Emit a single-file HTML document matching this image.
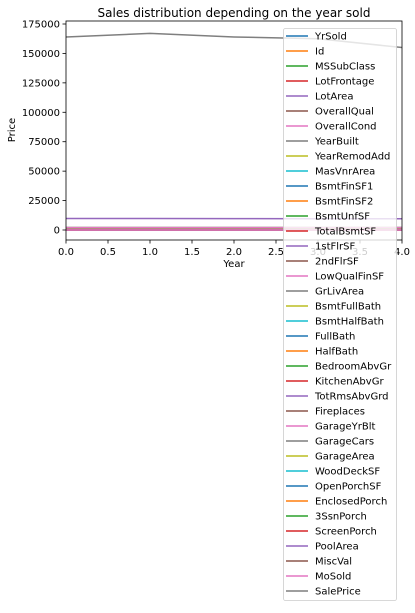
<!DOCTYPE html>
<html><head><meta charset="utf-8"><style>
body{margin:0;background:#fff;width:415px;height:608px;overflow:hidden}
svg text{font-family:"DejaVu Sans","Liberation Sans",sans-serif;fill:#000}
</style></head><body>
<svg id="c" width="415" height="608" xmlns="http://www.w3.org/2000/svg"></svg>
<script>
const xVals=[0,1,2,3,4];
const seriesNames=["YrSold","Id","MSSubClass","LotFrontage","LotArea","OverallQual","OverallCond","YearBuilt","YearRemodAdd","MasVnrArea","BsmtFinSF1","BsmtFinSF2","BsmtUnfSF","TotalBsmtSF","1stFlrSF","2ndFlrSF","LowQualFinSF","GrLivArea","BsmtFullBath","BsmtHalfBath","FullBath","HalfBath","BedroomAbvGr","KitchenAbvGr","TotRmsAbvGrd","Fireplaces","GarageYrBlt","GarageCars","GarageArea","WoodDeckSF","OpenPorchSF","EnclosedPorch","3SsnPorch","ScreenPorch","PoolArea","MiscVal","MoSold","SalePrice"];
const seriesValues=[
[2006,2007,2008,2009,2010],[720,735,730,725,740],[57,56,58,56,57],[70,70,69,70,71],[9800,9750,9650,9600,9550],
[6,6,6,6,6],[6,6,6,6,6],[1970,1972,1971,1971,1972],[1984,1985,1985,1985,1986],[105,104,102,100,98],
[440,445,440,438,442],[46,47,45,46,44],[565,568,570,567,565],[1055,1060,1055,1050,1058],[1160,1165,1160,1158,1162],
[345,348,346,344,347],[6,5,6,5,6],[1515,1520,1515,1510,1518],[0,0,0,0,0],[0,0,0,0,0],
[2,2,2,2,2],[0,0,0,0,0],[3,3,3,3,3],[1,1,1,1,1],[6,6,6,6,6],
[1,1,1,1,1],[1978,1979,1978,1978,1979],[2,2,2,2,2],[472,475,473,470,474],[94,95,93,94,92],
[46,47,46,45,47],[22,21,22,23,21],[3,3,4,3,3],[15,15,16,15,14],[3,2,3,3,2],
[43,45,40,42,44],[6,6,6,6,6],[164000,167000,164000,162500,155000]];
const xTicks=[0,0.5,1,1.5,2,2.5,3,3.5,4];
const yTicks=[0,25000,50000,75000,100000,125000,150000,175000];
const colors=["#1f77b4","#ff7f0e","#2ca02c","#d62728","#9467bd","#8c564b","#e377c2","#7f7f7f","#bcbd22","#17becf"];
const L=66,R=402,T=21,B=240;
const X=v=>L+(v-0)/(4-0)*(R-L);
const Y=v=>230-v*(206/175000);
const svg=document.getElementById('c');const NS="http://www.w3.org/2000/svg";
function mk(t,a,p){const e=document.createElementNS(NS,t);for(const k in a)e.setAttribute(k,a[k]);(p||svg).appendChild(e);return e;}
let t=mk('text',{x:234,y:17,'font-size':12,'text-anchor':'middle'});t.textContent="Sales distribution depending on the year sold";


const cp=mk('clipPath',{id:'cl'});mk('rect',{x:L,y:T,width:R-L,height:B-T},cp);
const g=mk('g',{'clip-path':'url(#cl)'});


seriesValues.forEach((vals,i)=>{
 const p=mk('polyline',{points:vals.map((v,j)=>X(xVals[j])+','+Y(v)).join(' '),fill:'none',stroke:colors[i%10],'stroke-width':1.5},g);
 
 
});
const fr=mk('rect',{x:L,y:T,width:R-L,height:B-T,fill:'none',stroke:'#000','stroke-width':0.8});


xTicks.forEach(v=>{mk('line',{x1:X(v),x2:X(v),y1:B,y2:B+3.5,stroke:'#000','stroke-width':0.8});
 const tx=mk('text',{x:X(v),y:B+15,'font-size':10,'text-anchor':'middle'});tx.textContent=v.toFixed(1);
 
 });
yTicks.forEach(v=>{mk('line',{x1:L-3.5,x2:L,y1:Y(v),y2:Y(v),stroke:'#000','stroke-width':0.8});
 const tx=mk('text',{x:L-6,y:Y(v)+3.5,'font-size':10,'text-anchor':'end'});tx.textContent=v;
 
 });
t=mk('text',{x:234,y:267,'font-size':10,'text-anchor':'middle'});t.textContent="Year";


t=mk('text',{x:15,y:130,'font-size':10,'text-anchor':'middle',transform:'rotate(-90 15 130)'});t.textContent="Price";


const lg=mk('g',{});


mk('rect',{x:283.5,y:28.5,width:113,height:572,rx:2,fill:'#fff','fill-opacity':0.8,stroke:'#ccc','stroke-width':0.8},lg);
seriesNames.forEach((n,i)=>{
 const y=36+i*15;
 const e=mk('g',{},lg);
 
 
 mk('line',{x1:286,x2:308,y1:y,y2:y,stroke:colors[i%10],'stroke-width':1.5},e);
 const tx=mk('text',{x:315,y:y+3.5,'font-size':10},e);tx.textContent=n;
});
</script>
</body></html>
